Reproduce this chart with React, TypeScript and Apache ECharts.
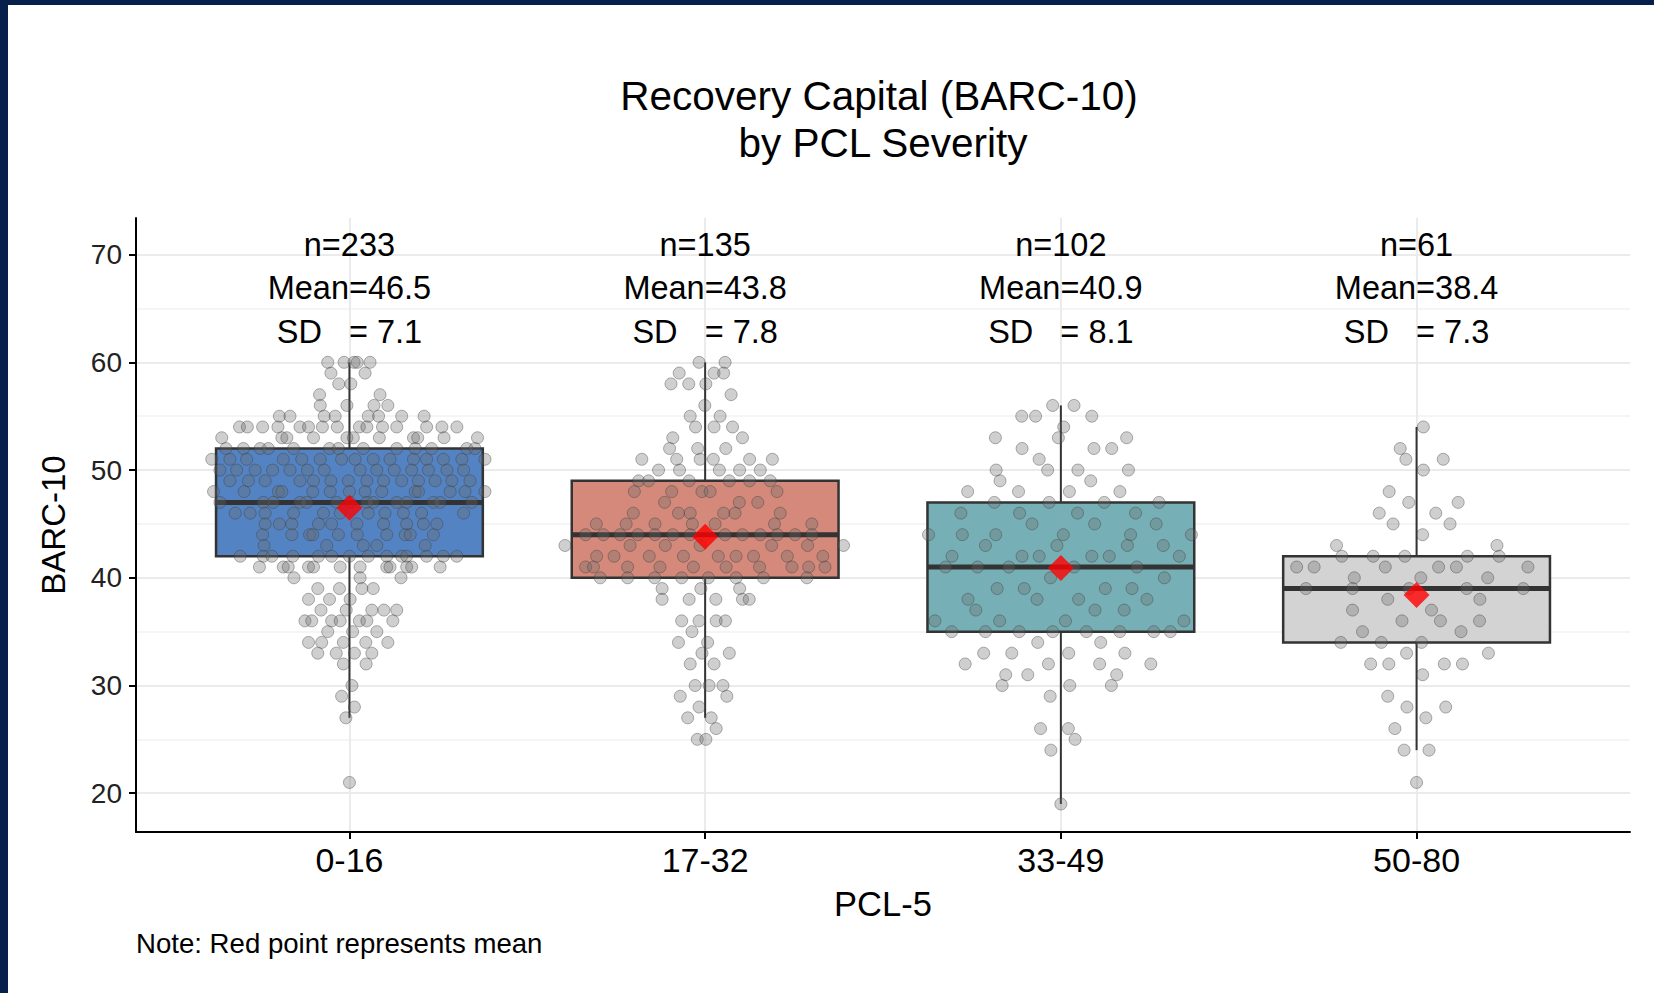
import React, { useEffect, useRef } from 'react';
import * as echarts from 'echarts';

// ---- Data -------------------------------------------------------------
const categories = ['0-16', '17-32', '33-49', '50-80'];
const groupN = [233, 135, 102, 61];
const groupMean = [46.5, 43.8, 40.9, 38.4];
const groupSD = [7.1, 7.8, 8.1, 7.3];

// Box-and-whisker statistics per PCL-5 band
const whiskerLow = [27, 27, 19, 24];
const quartile1 = [42, 40, 35, 34];
const medians = [47, 44, 41, 39];
const quartile3 = [52, 49, 47, 42];
const whiskerHigh = [60, 60, 56, 54];

const yTicks = [20, 30, 40, 50, 60, 70];
const yMinorTicks = [25, 35, 45, 55, 65];

// Individual BARC-10 scores: [score, horizontal jitter offsets of the points at that score]
const pcl0to16: [number, number[]][] = [
  [60, [-0.061, -0.015, 0.013, 0.022, 0.058]],
  [59, [-0.052, 0.044]],
  [58, [-0.03, 0.004]],
  [57, [-0.084, 0.086]],
  [56, [-0.082, -0.007, 0.069, 0.108]],
  [55, [-0.197, -0.167, -0.071, -0.04, 0.053, 0.082, 0.147, 0.21]],
  [54, [-0.309, -0.287, -0.244, -0.201, -0.139, -0.115, -0.076, -0.034, 0.028, 0.049, 0.093, 0.133, 0.217, 0.26, 0.302]],
  [53, [-0.359, -0.19, -0.176, -0.101, -0.007, 0.011, 0.084, 0.18, 0.192, 0.266, 0.36]],
  [52, [-0.347, -0.298, -0.251, -0.228, -0.157, -0.056, -0.031, 0.039, 0.133, 0.185, 0.231, 0.33, 0.353]],
  [51, [-0.387, -0.336, -0.289, -0.186, -0.134, -0.082, -0.022, 0.016, 0.067, 0.114, 0.18, 0.217, 0.264, 0.316, 0.381]],
  [50, [-0.364, -0.317, -0.265, -0.216, -0.167, -0.118, -0.071, 0.03, 0.077, 0.126, 0.175, 0.222, 0.274, 0.321]],
  [49, [-0.336, -0.284, -0.237, -0.139, -0.101, -0.052, -0.003, 0.049, 0.096, 0.147, 0.194, 0.241, 0.288, 0.339]],
  [48, [-0.382, -0.296, -0.2, -0.19, -0.103, -0.054, 0.0, 0.044, 0.091, 0.185, 0.194, 0.283, 0.325, 0.381]],
  [47, [-0.364, -0.242, -0.214, -0.139, -0.12, -0.036, 0.002, 0.049, 0.067, 0.133, 0.161, 0.236, 0.255, 0.344]],
  [46, [-0.321, -0.279, -0.237, -0.157, -0.073, -0.026, 0.053, 0.1, 0.152, 0.203, 0.321]],
  [45, [-0.237, -0.197, -0.162, -0.087, -0.05, 0.021, 0.096, 0.161, 0.208, 0.246]],
  [44, [-0.244, -0.162, -0.112, -0.103, -0.031, 0.022, 0.105, 0.157, 0.171, 0.236]],
  [43, [-0.24, -0.064, 0.039, 0.077, 0.213]],
  [42, [-0.307, -0.242, -0.218, -0.159, -0.087, -0.05, 0.0, 0.053, 0.105, 0.147, 0.161, 0.217, 0.264, 0.302]],
  [41, [-0.253, -0.186, -0.172, -0.115, -0.101, -0.026, 0.03, 0.105, 0.114, 0.161, 0.175, 0.255]],
  [40, [-0.156, 0.03, 0.145]],
  [39, [-0.089, -0.028, 0.035, 0.067]],
  [38, [-0.115, -0.056, 0.002]],
  [37, [-0.08, -0.009, 0.063, 0.097, 0.133]],
  [36, [-0.125, -0.106, -0.05, -0.026, 0.028, 0.049, 0.122]],
  [35, [-0.061, 0.009, 0.077]],
  [34, [-0.115, -0.078, -0.017, 0.046, 0.108]],
  [33, [-0.089, -0.037, 0.014, 0.063]],
  [32, [-0.017, 0.047]],
  [30, [0.007]],
  [29, [-0.022]],
  [28, [0.014]],
  [27, [-0.01]],
  [21, [0.0]],
];

const pcl17to32: [number, number[]][] = [
  [60, [-0.017, 0.056]],
  [59, [-0.073, 0.025, 0.052]],
  [58, [-0.096, -0.046, 0.002]],
  [57, [0.073]],
  [56, [-0.001]],
  [55, [-0.042, 0.042]],
  [54, [-0.027, 0.025, 0.077]],
  [53, [-0.091, 0.105]],
  [52, [-0.1, -0.021, 0.058]],
  [51, [-0.178, -0.08, -0.014, 0.023, 0.125, 0.189]],
  [50, [-0.131, -0.072, 0.04, 0.097, 0.155]],
  [49, [-0.187, -0.159, -0.045, 0.068, 0.125, 0.183]],
  [48, [-0.199, -0.094, -0.009, 0.014, 0.202]],
  [47, [-0.114, 0.096, 0.148]],
  [46, [-0.202, -0.075, -0.042, 0.052, 0.084, 0.211]],
  [45, [-0.306, -0.222, -0.141, -0.036, 0.028, 0.195, 0.3]],
  [44, [-0.336, -0.286, -0.239, -0.189, -0.141, -0.091, -0.042, 0.056, 0.105, 0.155, 0.203, 0.253, 0.3]],
  [43, [-0.394, -0.211, -0.112, -0.014, 0.187, 0.288, 0.389]],
  [42, [-0.305, -0.256, -0.157, -0.061, 0.037, 0.087, 0.136, 0.231, 0.331]],
  [41, [-0.336, -0.314, -0.218, -0.127, -0.033, 0.059, 0.153, 0.244, 0.291, 0.337]],
  [40, [-0.295, -0.218, -0.142, -0.066, 0.009, 0.087, 0.164, 0.286]],
  [39, [-0.121, -0.012, 0.097]],
  [38, [-0.121, -0.045, 0.03, 0.105, 0.124]],
  [36, [-0.066, -0.017, 0.031, 0.057]],
  [35, [-0.037]],
  [34, [-0.075, 0.007]],
  [33, [-0.009, 0.068]],
  [32, [-0.042, 0.025]],
  [30, [-0.028, 0.011, 0.05]],
  [29, [-0.07, 0.061]],
  [28, [-0.017]],
  [27, [-0.049, 0.017]],
  [26, [0.031]],
  [25, [-0.022, 0.002]],
];

const pcl33to49: [number, number[]][] = [
  [56, [-0.023, 0.037]],
  [55, [-0.11, -0.071, 0.087]],
  [54, [0.008]],
  [53, [-0.184, -0.007, 0.185]],
  [52, [-0.109, 0.093, 0.143]],
  [51, [-0.061]],
  [50, [-0.182, -0.037, 0.048, 0.19]],
  [49, [-0.171, 0.084]],
  [48, [-0.262, -0.119, 0.024, 0.166]],
  [47, [-0.187, -0.033, 0.122, 0.276]],
  [46, [-0.281, -0.116, 0.047, 0.21]],
  [45, [-0.081, 0.095, 0.268]],
  [44, [-0.372, -0.277, -0.183, 0.007, 0.196, 0.367]],
  [43, [-0.212, -0.011, 0.187, 0.288]],
  [42, [-0.306, -0.109, -0.061, 0.087, 0.136, 0.333]],
  [41, [-0.324, -0.234, -0.146, 0.037, 0.214]],
  [40, [-0.029, 0.291]],
  [39, [-0.179, -0.103, 0.125, 0.2]],
  [38, [-0.261, -0.067, 0.05, 0.242]],
  [37, [-0.239, 0.096, 0.178]],
  [36, [-0.354, -0.172, 0.013, 0.346]],
  [35, [-0.307, -0.212, -0.117, -0.023, 0.072, 0.166, 0.261, 0.308]],
  [34, [-0.065, 0.112]],
  [33, [-0.217, -0.138, 0.022, 0.18]],
  [32, [-0.269, -0.035, 0.109, 0.253]],
  [31, [-0.155, -0.093, 0.157]],
  [30, [-0.165, 0.025, 0.142]],
  [29, [-0.03]],
  [26, [-0.057, 0.021]],
  [25, [0.04]],
  [24, [-0.028]],
  [19, [0.0]],
];

const pcl50to80: [number, number[]][] = [
  [54, [0.019]],
  [52, [-0.046]],
  [51, [-0.03, 0.075]],
  [50, [0.019]],
  [48, [-0.077]],
  [47, [-0.022, 0.117]],
  [46, [-0.105, 0.054]],
  [45, [-0.066, 0.094]],
  [44, [0.017]],
  [43, [-0.225, 0.226]],
  [42, [-0.21, -0.122, -0.033, 0.143, 0.232]],
  [41, [-0.337, -0.288, -0.088, 0.062, 0.112, 0.313]],
  [40, [-0.175, 0.012, 0.2]],
  [39, [-0.311, -0.18, -0.021, 0.141, 0.3]],
  [38, [-0.081, 0.178]],
  [37, [-0.18, 0.042]],
  [36, [-0.041, 0.067, 0.177]],
  [35, [-0.152, 0.125]],
  [34, [-0.213, -0.099, 0.014]],
  [33, [-0.028, 0.202]],
  [32, [-0.129, -0.078, 0.078, 0.129]],
  [31, [0.017]],
  [29, [-0.081]],
  [28, [-0.027, 0.082]],
  [27, [0.026]],
  [26, [-0.061]],
  [24, [-0.035, 0.035]],
  [21, [0.0]],
];

const groupPoints = [pcl0to16, pcl17to32, pcl33to49, pcl50to80];

// ---- Styling -----------------------------------------------------------
const FONT = '"Liberation Sans", Arial, Helvetica, sans-serif';
const boxFills = ['#5483C4', '#D4897B', '#76B0B6', '#D3D3D3'];
const FRAME = '#07204B';
const INK = '#333333';
const BOX_HALF_WIDTH = 0.375;
const STATS_LABEL_Y = 66.9;

const boxData = categories.map((_, i) => [
  i + 1,
  whiskerLow[i],
  quartile1[i],
  medians[i],
  quartile3[i],
  whiskerHigh[i],
]);

const jitterData: number[][] = [];
groupPoints.forEach((rows, gi) => {
  rows.forEach(([score, offsets]) => {
    offsets.forEach((dx) => jitterData.push([gi + 1 + dx, score]));
  });
});

const meanData = categories.map((_, i) => [i + 1, groupMean[i]]);
const statsData = categories.map((_, i) => [i + 1, STATS_LABEL_Y]);

const gridLines = [
  ...yTicks.map((v) => ({ yAxis: v, lineStyle: { color: '#EBEBEB', width: 2 } })),
  ...yMinorTicks.map((v) => ({ yAxis: v, lineStyle: { color: '#F2F2F2', width: 1.5 } })),
  ...categories.map((_, i) => ({ xAxis: i + 1, lineStyle: { color: '#EBEBEB', width: 2 } })),
];

const centeredText = {
  fontFamily: FONT,
  fill: '#000',
  align: 'center',
  textAlign: 'center',
  verticalAlign: 'middle',
  textVerticalAlign: 'middle',
};

function buildOption(): any {
  return {
    animation: false,
    backgroundColor: '#ffffff',
    textStyle: { fontFamily: FONT },
    grid: { left: 136, right: 24, top: 218, bottom: 161, containLabel: false },
    xAxis: {
      type: 'value',
      min: 0.4,
      max: 4.6,
      name: 'PCL-5',
      nameLocation: 'middle',
      nameGap: 54,
      nameTextStyle: { fontSize: 34.5, color: '#000', fontFamily: FONT },
      axisLine: { show: true, onZero: false, lineStyle: { color: '#000', width: 2 } },
      axisTick: { show: true, length: 7, customValues: [1, 2, 3, 4], lineStyle: { color: '#000', width: 2 } },
      axisLabel: {
        customValues: [1, 2, 3, 4],
        formatter: (v: number) => categories[Math.round(v) - 1] ?? '',
        fontSize: 34,
        color: '#000',
        margin: 11,
        fontFamily: FONT,
      },
      splitLine: { show: false },
    },
    yAxis: {
      type: 'value',
      min: 16.4,
      max: 73.4,
      name: 'BARC-10',
      nameLocation: 'middle',
      nameGap: 66,
      nameTextStyle: { fontSize: 33, color: '#000', fontFamily: FONT },
      axisLine: { show: true, onZero: false, lineStyle: { color: '#000', width: 2 } },
      axisTick: { show: true, length: 7, customValues: yTicks, lineStyle: { color: '#000', width: 2 } },
      axisLabel: { customValues: yTicks, fontSize: 28, color: '#222', margin: 14, fontFamily: FONT },
      splitLine: { show: false },
    },
    graphic: [
      { type: 'rect', z: 100, shape: { x: 0, y: 0, width: 1654, height: 5 }, style: { fill: FRAME } },
      { type: 'rect', z: 100, shape: { x: 0, y: 0, width: 8, height: 993 }, style: { fill: FRAME } },
      {
        type: 'text',
        x: 879,
        y: 95.5,
        style: { ...centeredText, text: 'Recovery Capital (BARC-10)', fontSize: 40.5 },
      },
      {
        type: 'text',
        x: 883,
        y: 142.5,
        style: { ...centeredText, text: 'by PCL Severity', fontSize: 40.5 },
      },
      {
        type: 'text',
        x: 136,
        y: 943,
        style: {
          ...centeredText,
          text: 'Note: Red point represents mean',
          fontSize: 27.6,
          align: 'left',
          textAlign: 'left',
        },
      },
    ],
    series: [
      {
        name: 'grid',
        type: 'line',
        data: [],
        z: 0,
        silent: true,
        markLine: {
          z: 0,
          silent: true,
          symbol: ['none', 'none'],
          label: { show: false },
          lineStyle: { type: 'solid' },
          data: gridLines,
        },
      },
      {
        name: 'boxes',
        type: 'custom',
        z: 1,
        silent: true,
        data: boxData,
        renderItem: (params: any, api: any) => {
          const i = params.dataIndex;
          const x = api.value(0);
          const low = api.value(1);
          const q1 = api.value(2);
          const med = api.value(3);
          const q3 = api.value(4);
          const high = api.value(5);
          const [xl, yQ3] = api.coord([x - BOX_HALF_WIDTH, q3]);
          const [xr, yQ1] = api.coord([x + BOX_HALF_WIDTH, q1]);
          const [xc, yHigh] = api.coord([x, high]);
          const yLow = api.coord([x, low])[1];
          const yMed = api.coord([x, med])[1];
          return {
            type: 'group',
            children: [
              { type: 'line', shape: { x1: xc, y1: yHigh, x2: xc, y2: yQ3 }, style: { stroke: INK, lineWidth: 2 } },
              { type: 'line', shape: { x1: xc, y1: yQ1, x2: xc, y2: yLow }, style: { stroke: INK, lineWidth: 2 } },
              {
                type: 'rect',
                shape: { x: xl, y: yQ3, width: xr - xl, height: yQ1 - yQ3 },
                style: { fill: boxFills[i], stroke: INK, lineWidth: 2.5 },
              },
              { type: 'line', shape: { x1: xl, y1: yMed, x2: xr, y2: yMed }, style: { stroke: INK, lineWidth: 5 } },
            ],
          };
        },
      },
      {
        name: 'scores',
        type: 'scatter',
        z: 2,
        silent: true,
        symbol: 'circle',
        symbolSize: 12,
        itemStyle: { color: 'rgba(105,105,105,0.4)', borderColor: 'rgba(60,60,60,0.5)', borderWidth: 1 },
        data: jitterData,
      },
      {
        name: 'stats',
        type: 'custom',
        z: 3,
        silent: true,
        data: statsData,
        renderItem: (params: any, api: any) => {
          const i = params.dataIndex;
          const [px, py] = api.coord([api.value(0), api.value(1)]);
          return {
            type: 'text',
            x: px,
            y: py,
            style: {
              ...centeredText,
              text: `n=${groupN[i]}\nMean=${groupMean[i].toFixed(1)}\nSD   = ${groupSD[i].toFixed(1)}`,
              fontSize: 32.5,
              lineHeight: 43.5,
            },
          };
        },
      },
      {
        name: 'mean',
        type: 'scatter',
        z: 4,
        silent: true,
        symbol: 'diamond',
        symbolSize: [26, 26],
        itemStyle: { color: '#FF0000' },
        data: meanData,
      },
    ],
  };
}

export default function App() {
  const ref = useRef<HTMLDivElement>(null);
  useEffect(() => {
    if (!ref.current) return;
    const chart = echarts.init(ref.current, undefined, { renderer: 'svg' });
    chart.setOption(buildOption());
    return () => chart.dispose();
  }, []);
  return (
    <div
      ref={ref}
      style={{ position: 'fixed', left: 0, top: 0, width: 1654, height: 993, background: '#ffffff' }}
    />
  );
}
